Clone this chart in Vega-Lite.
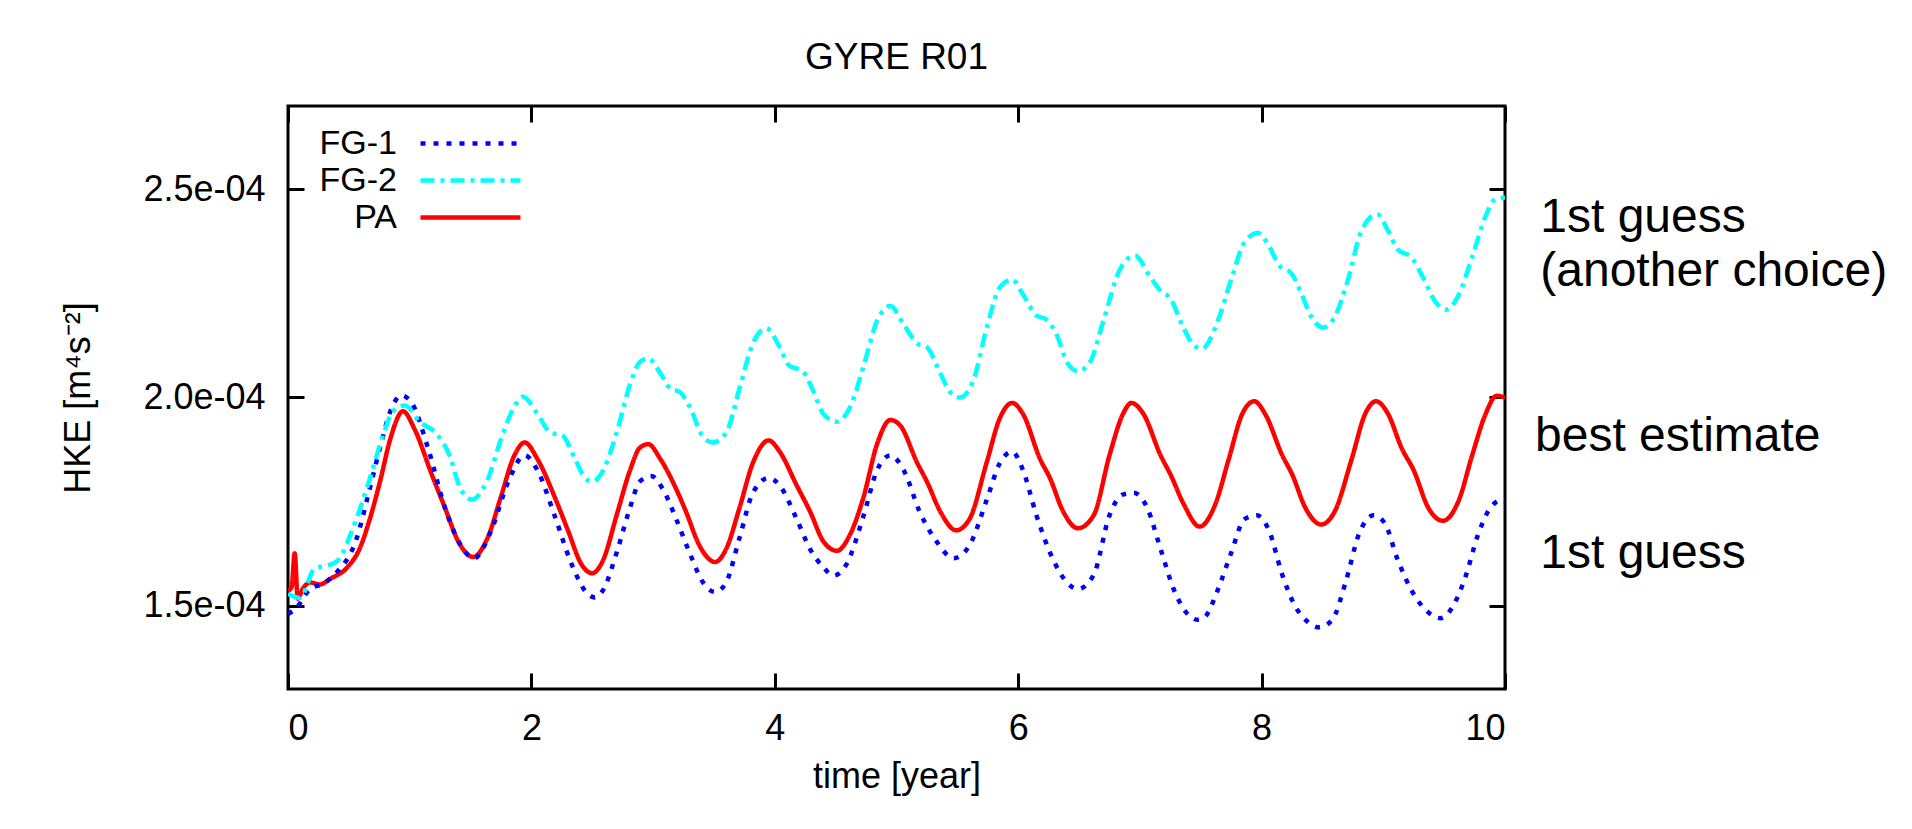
{
  "$schema": "https://vega.github.io/schema/vega-lite/v6.json",
  "autosize": {"type": "none"},
  "width": 1217,
  "height": 583,
  "padding": {"left": 288, "top": 106, "right": 407, "bottom": 140},
  "background": "white",
  "title": {"text": "GYRE R01", "font": "Liberation Sans", "fontSize": 37, "fontWeight": "normal", "color": "black", "anchor": "middle", "baseline": "alphabetic", "offset": -1},
  "config": {
    "view": {"stroke": "black", "strokeWidth": 3},
    "axis": {"grid": false, "domain": false, "tickColor": "black", "tickWidth": 3, "tickSize": -16, "labelColor": "black", "labelFont": "Liberation Sans", "labelFontSize": 36, "titleFont": "Liberation Sans", "titleFontSize": 36, "titleFontWeight": "normal", "titleColor": "black"},
    "legend": {"labelFont": "Liberation Sans", "labelFontSize": 34, "labelColor": "black", "labelLimit": 0}
  },
  "datasets": {
    "series": [
      {"s":"PA","t":0.00,"v":1.536e-4},{"s":"PA","t":0.03,"v":1.545e-4},{"s":"PA","t":0.055,"v":1.626e-4},{"s":"PA","t":0.08,"v":1.517e-4},{"s":"PA","t":0.12,"v":1.540e-4},{"s":"PA","t":0.18,"v":1.556e-4},{"s":"PA","t":0.26,"v":1.551e-4},{"s":"PA","t":0.35,"v":1.565e-4},{"s":"PA","t":0.48,"v":1.590e-4},{"s":"PA","t":0.59,"v":1.638e-4},{"s":"PA","t":0.67,"v":1.706e-4},{"s":"PA","t":0.76,"v":1.803e-4},{"s":"PA","t":0.84,"v":1.900e-4},{"s":"PA","t":0.945,"v":1.967e-4},{"s":"PA","t":1.04,"v":1.924e-4},{"s":"PA","t":1.18,"v":1.816e-4},{"s":"PA","t":1.29,"v":1.735e-4},{"s":"PA","t":1.40,"v":1.654e-4},{"s":"PA","t":1.52,"v":1.617e-4},{"s":"PA","t":1.64,"v":1.663e-4},{"s":"PA","t":1.75,"v":1.762e-4},{"s":"PA","t":1.86,"v":1.861e-4},{"s":"PA","t":1.945,"v":1.892e-4},{"s":"PA","t":2.05,"v":1.852e-4},{"s":"PA","t":2.19,"v":1.762e-4},{"s":"PA","t":2.30,"v":1.681e-4},{"s":"PA","t":2.41,"v":1.600e-4},{"s":"PA","t":2.50,"v":1.578e-4},{"s":"PA","t":2.59,"v":1.610e-4},{"s":"PA","t":2.70,"v":1.717e-4},{"s":"PA","t":2.81,"v":1.825e-4},{"s":"PA","t":2.89,"v":1.879e-4},{"s":"PA","t":2.96,"v":1.888e-4},{"s":"PA","t":3.06,"v":1.852e-4},{"s":"PA","t":3.19,"v":1.780e-4},{"s":"PA","t":3.27,"v":1.726e-4},{"s":"PA","t":3.38,"v":1.645e-4},{"s":"PA","t":3.51,"v":1.605e-4},{"s":"PA","t":3.60,"v":1.636e-4},{"s":"PA","t":3.71,"v":1.735e-4},{"s":"PA","t":3.82,"v":1.843e-4},{"s":"PA","t":3.95,"v":1.897e-4},{"s":"PA","t":4.04,"v":1.870e-4},{"s":"PA","t":4.18,"v":1.789e-4},{"s":"PA","t":4.29,"v":1.726e-4},{"s":"PA","t":4.40,"v":1.654e-4},{"s":"PA","t":4.51,"v":1.632e-4},{"s":"PA","t":4.62,"v":1.672e-4},{"s":"PA","t":4.73,"v":1.762e-4},{"s":"PA","t":4.84,"v":1.888e-4},{"s":"PA","t":4.95,"v":1.946e-4},{"s":"PA","t":5.03,"v":1.933e-4},{"s":"PA","t":5.17,"v":1.843e-4},{"s":"PA","t":5.25,"v":1.798e-4},{"s":"PA","t":5.36,"v":1.726e-4},{"s":"PA","t":5.49,"v":1.681e-4},{"s":"PA","t":5.60,"v":1.708e-4},{"s":"PA","t":5.74,"v":1.843e-4},{"s":"PA","t":5.85,"v":1.951e-4},{"s":"PA","t":5.95,"v":1.987e-4},{"s":"PA","t":6.04,"v":1.960e-4},{"s":"PA","t":6.18,"v":1.852e-4},{"s":"PA","t":6.26,"v":1.807e-4},{"s":"PA","t":6.37,"v":1.726e-4},{"s":"PA","t":6.49,"v":1.686e-4},{"s":"PA","t":6.62,"v":1.717e-4},{"s":"PA","t":6.75,"v":1.861e-4},{"s":"PA","t":6.86,"v":1.960e-4},{"s":"PA","t":6.93,"v":1.987e-4},{"s":"PA","t":7.03,"v":1.960e-4},{"s":"PA","t":7.17,"v":1.861e-4},{"s":"PA","t":7.25,"v":1.816e-4},{"s":"PA","t":7.36,"v":1.744e-4},{"s":"PA","t":7.49,"v":1.690e-4},{"s":"PA","t":7.62,"v":1.744e-4},{"s":"PA","t":7.73,"v":1.852e-4},{"s":"PA","t":7.84,"v":1.960e-4},{"s":"PA","t":7.94,"v":1.991e-4},{"s":"PA","t":8.03,"v":1.960e-4},{"s":"PA","t":8.17,"v":1.861e-4},{"s":"PA","t":8.25,"v":1.816e-4},{"s":"PA","t":8.36,"v":1.735e-4},{"s":"PA","t":8.49,"v":1.695e-4},{"s":"PA","t":8.60,"v":1.726e-4},{"s":"PA","t":8.74,"v":1.852e-4},{"s":"PA","t":8.85,"v":1.960e-4},{"s":"PA","t":8.94,"v":1.991e-4},{"s":"PA","t":9.04,"v":1.960e-4},{"s":"PA","t":9.15,"v":1.879e-4},{"s":"PA","t":9.25,"v":1.825e-4},{"s":"PA","t":9.37,"v":1.735e-4},{"s":"PA","t":9.49,"v":1.704e-4},{"s":"PA","t":9.62,"v":1.753e-4},{"s":"PA","t":9.73,"v":1.861e-4},{"s":"PA","t":9.84,"v":1.960e-4},{"s":"PA","t":9.93,"v":2.004e-4},{"s":"PA","t":10.0,"v":2.000e-4},
      {"s":"FG-1","t":0.00,"v":1.480e-4},{"s":"FG-1","t":0.07,"v":1.495e-4},{"s":"FG-1","t":0.18,"v":1.540e-4},{"s":"FG-1","t":0.29,"v":1.553e-4},{"s":"FG-1","t":0.40,"v":1.580e-4},{"s":"FG-1","t":0.56,"v":1.658e-4},{"s":"FG-1","t":0.67,"v":1.779e-4},{"s":"FG-1","t":0.76,"v":1.884e-4},{"s":"FG-1","t":0.84,"v":1.966e-4},{"s":"FG-1","t":0.93,"v":2.005e-4},{"s":"FG-1","t":1.01,"v":1.990e-4},{"s":"FG-1","t":1.15,"v":1.879e-4},{"s":"FG-1","t":1.29,"v":1.735e-4},{"s":"FG-1","t":1.42,"v":1.645e-4},{"s":"FG-1","t":1.53,"v":1.614e-4},{"s":"FG-1","t":1.67,"v":1.681e-4},{"s":"FG-1","t":1.81,"v":1.798e-4},{"s":"FG-1","t":1.945,"v":1.861e-4},{"s":"FG-1","t":2.05,"v":1.825e-4},{"s":"FG-1","t":2.19,"v":1.717e-4},{"s":"FG-1","t":2.33,"v":1.600e-4},{"s":"FG-1","t":2.46,"v":1.529e-4},{"s":"FG-1","t":2.52,"v":1.520e-4},{"s":"FG-1","t":2.59,"v":1.538e-4},{"s":"FG-1","t":2.70,"v":1.627e-4},{"s":"FG-1","t":2.81,"v":1.735e-4},{"s":"FG-1","t":2.89,"v":1.798e-4},{"s":"FG-1","t":2.99,"v":1.811e-4},{"s":"FG-1","t":3.08,"v":1.780e-4},{"s":"FG-1","t":3.19,"v":1.708e-4},{"s":"FG-1","t":3.30,"v":1.627e-4},{"s":"FG-1","t":3.41,"v":1.556e-4},{"s":"FG-1","t":3.51,"v":1.533e-4},{"s":"FG-1","t":3.60,"v":1.556e-4},{"s":"FG-1","t":3.71,"v":1.663e-4},{"s":"FG-1","t":3.82,"v":1.771e-4},{"s":"FG-1","t":3.95,"v":1.807e-4},{"s":"FG-1","t":4.04,"v":1.789e-4},{"s":"FG-1","t":4.18,"v":1.708e-4},{"s":"FG-1","t":4.29,"v":1.636e-4},{"s":"FG-1","t":4.40,"v":1.592e-4},{"s":"FG-1","t":4.48,"v":1.572e-4},{"s":"FG-1","t":4.59,"v":1.600e-4},{"s":"FG-1","t":4.73,"v":1.717e-4},{"s":"FG-1","t":4.84,"v":1.825e-4},{"s":"FG-1","t":4.95,"v":1.861e-4},{"s":"FG-1","t":5.06,"v":1.825e-4},{"s":"FG-1","t":5.19,"v":1.726e-4},{"s":"FG-1","t":5.33,"v":1.654e-4},{"s":"FG-1","t":5.47,"v":1.614e-4},{"s":"FG-1","t":5.60,"v":1.645e-4},{"s":"FG-1","t":5.74,"v":1.753e-4},{"s":"FG-1","t":5.85,"v":1.843e-4},{"s":"FG-1","t":5.95,"v":1.870e-4},{"s":"FG-1","t":6.04,"v":1.825e-4},{"s":"FG-1","t":6.15,"v":1.717e-4},{"s":"FG-1","t":6.29,"v":1.609e-4},{"s":"FG-1","t":6.40,"v":1.556e-4},{"s":"FG-1","t":6.49,"v":1.540e-4},{"s":"FG-1","t":6.62,"v":1.574e-4},{"s":"FG-1","t":6.75,"v":1.717e-4},{"s":"FG-1","t":6.86,"v":1.767e-4},{"s":"FG-1","t":6.95,"v":1.771e-4},{"s":"FG-1","t":7.06,"v":1.735e-4},{"s":"FG-1","t":7.17,"v":1.636e-4},{"s":"FG-1","t":7.28,"v":1.538e-4},{"s":"FG-1","t":7.38,"v":1.484e-4},{"s":"FG-1","t":7.48,"v":1.466e-4},{"s":"FG-1","t":7.54,"v":1.475e-4},{"s":"FG-1","t":7.64,"v":1.538e-4},{"s":"FG-1","t":7.75,"v":1.627e-4},{"s":"FG-1","t":7.86,"v":1.708e-4},{"s":"FG-1","t":7.96,"v":1.717e-4},{"s":"FG-1","t":8.06,"v":1.681e-4},{"s":"FG-1","t":8.17,"v":1.574e-4},{"s":"FG-1","t":8.27,"v":1.502e-4},{"s":"FG-1","t":8.38,"v":1.461e-4},{"s":"FG-1","t":8.47,"v":1.448e-4},{"s":"FG-1","t":8.58,"v":1.466e-4},{"s":"FG-1","t":8.69,"v":1.556e-4},{"s":"FG-1","t":8.80,"v":1.672e-4},{"s":"FG-1","t":8.92,"v":1.717e-4},{"s":"FG-1","t":9.01,"v":1.699e-4},{"s":"FG-1","t":9.12,"v":1.609e-4},{"s":"FG-1","t":9.23,"v":1.538e-4},{"s":"FG-1","t":9.37,"v":1.484e-4},{"s":"FG-1","t":9.47,"v":1.470e-4},{"s":"FG-1","t":9.56,"v":1.493e-4},{"s":"FG-1","t":9.67,"v":1.565e-4},{"s":"FG-1","t":9.78,"v":1.672e-4},{"s":"FG-1","t":9.86,"v":1.726e-4},{"s":"FG-1","t":9.97,"v":1.753e-4},{"s":"FG-1","t":10.0,"v":1.750e-4},
      {"s":"FG-2","t":0.00,"v":1.529e-4},{"s":"FG-2","t":0.10,"v":1.519e-4},{"s":"FG-2","t":0.22,"v":1.590e-4},{"s":"FG-2","t":0.33,"v":1.597e-4},{"s":"FG-2","t":0.41,"v":1.609e-4},{"s":"FG-2","t":0.55,"v":1.699e-4},{"s":"FG-2","t":0.67,"v":1.803e-4},{"s":"FG-2","t":0.78,"v":1.908e-4},{"s":"FG-2","t":0.86,"v":1.966e-4},{"s":"FG-2","t":0.96,"v":1.981e-4},{"s":"FG-2","t":1.08,"v":1.942e-4},{"s":"FG-2","t":1.22,"v":1.913e-4},{"s":"FG-2","t":1.33,"v":1.859e-4},{"s":"FG-2","t":1.41,"v":1.786e-4},{"s":"FG-2","t":1.51,"v":1.755e-4},{"s":"FG-2","t":1.63,"v":1.796e-4},{"s":"FG-2","t":1.76,"v":1.908e-4},{"s":"FG-2","t":1.86,"v":1.978e-4},{"s":"FG-2","t":1.93,"v":2.002e-4},{"s":"FG-2","t":2.05,"v":1.960e-4},{"s":"FG-2","t":2.16,"v":1.915e-4},{"s":"FG-2","t":2.25,"v":1.910e-4},{"s":"FG-2","t":2.36,"v":1.852e-4},{"s":"FG-2","t":2.44,"v":1.807e-4},{"s":"FG-2","t":2.50,"v":1.798e-4},{"s":"FG-2","t":2.59,"v":1.825e-4},{"s":"FG-2","t":2.70,"v":1.915e-4},{"s":"FG-2","t":2.81,"v":2.031e-4},{"s":"FG-2","t":2.89,"v":2.085e-4},{"s":"FG-2","t":2.96,"v":2.094e-4},{"s":"FG-2","t":3.06,"v":2.058e-4},{"s":"FG-2","t":3.14,"v":2.022e-4},{"s":"FG-2","t":3.22,"v":2.013e-4},{"s":"FG-2","t":3.30,"v":1.978e-4},{"s":"FG-2","t":3.41,"v":1.906e-4},{"s":"FG-2","t":3.49,"v":1.892e-4},{"s":"FG-2","t":3.60,"v":1.915e-4},{"s":"FG-2","t":3.71,"v":2.022e-4},{"s":"FG-2","t":3.82,"v":2.130e-4},{"s":"FG-2","t":3.93,"v":2.166e-4},{"s":"FG-2","t":4.04,"v":2.121e-4},{"s":"FG-2","t":4.12,"v":2.076e-4},{"s":"FG-2","t":4.23,"v":2.063e-4},{"s":"FG-2","t":4.32,"v":2.013e-4},{"s":"FG-2","t":4.40,"v":1.960e-4},{"s":"FG-2","t":4.51,"v":1.942e-4},{"s":"FG-2","t":4.62,"v":1.978e-4},{"s":"FG-2","t":4.73,"v":2.076e-4},{"s":"FG-2","t":4.84,"v":2.184e-4},{"s":"FG-2","t":4.95,"v":2.220e-4},{"s":"FG-2","t":5.06,"v":2.175e-4},{"s":"FG-2","t":5.17,"v":2.130e-4},{"s":"FG-2","t":5.25,"v":2.121e-4},{"s":"FG-2","t":5.36,"v":2.058e-4},{"s":"FG-2","t":5.44,"v":2.013e-4},{"s":"FG-2","t":5.52,"v":2.000e-4},{"s":"FG-2","t":5.63,"v":2.040e-4},{"s":"FG-2","t":5.74,"v":2.166e-4},{"s":"FG-2","t":5.85,"v":2.265e-4},{"s":"FG-2","t":5.95,"v":2.283e-4},{"s":"FG-2","t":6.04,"v":2.247e-4},{"s":"FG-2","t":6.15,"v":2.197e-4},{"s":"FG-2","t":6.23,"v":2.188e-4},{"s":"FG-2","t":6.32,"v":2.148e-4},{"s":"FG-2","t":6.40,"v":2.085e-4},{"s":"FG-2","t":6.49,"v":2.063e-4},{"s":"FG-2","t":6.59,"v":2.085e-4},{"s":"FG-2","t":6.70,"v":2.184e-4},{"s":"FG-2","t":6.84,"v":2.310e-4},{"s":"FG-2","t":6.96,"v":2.341e-4},{"s":"FG-2","t":7.08,"v":2.292e-4},{"s":"FG-2","t":7.17,"v":2.256e-4},{"s":"FG-2","t":7.25,"v":2.238e-4},{"s":"FG-2","t":7.36,"v":2.166e-4},{"s":"FG-2","t":7.44,"v":2.126e-4},{"s":"FG-2","t":7.51,"v":2.117e-4},{"s":"FG-2","t":7.64,"v":2.184e-4},{"s":"FG-2","t":7.75,"v":2.283e-4},{"s":"FG-2","t":7.86,"v":2.373e-4},{"s":"FG-2","t":7.97,"v":2.395e-4},{"s":"FG-2","t":8.06,"v":2.364e-4},{"s":"FG-2","t":8.14,"v":2.319e-4},{"s":"FG-2","t":8.25,"v":2.296e-4},{"s":"FG-2","t":8.33,"v":2.247e-4},{"s":"FG-2","t":8.41,"v":2.193e-4},{"s":"FG-2","t":8.51,"v":2.168e-4},{"s":"FG-2","t":8.60,"v":2.193e-4},{"s":"FG-2","t":8.71,"v":2.283e-4},{"s":"FG-2","t":8.82,"v":2.400e-4},{"s":"FG-2","t":8.95,"v":2.440e-4},{"s":"FG-2","t":9.04,"v":2.400e-4},{"s":"FG-2","t":9.12,"v":2.355e-4},{"s":"FG-2","t":9.23,"v":2.337e-4},{"s":"FG-2","t":9.32,"v":2.292e-4},{"s":"FG-2","t":9.43,"v":2.229e-4},{"s":"FG-2","t":9.52,"v":2.211e-4},{"s":"FG-2","t":9.62,"v":2.247e-4},{"s":"FG-2","t":9.73,"v":2.337e-4},{"s":"FG-2","t":9.84,"v":2.435e-4},{"s":"FG-2","t":9.92,"v":2.476e-4},{"s":"FG-2","t":10.0,"v":2.480e-4}
    ],
    "notes": [
      {"label": "1st guess", "t": 10.29, "v": 2.398e-4},
      {"label": "(another choice)", "t": 10.29, "v": 2.267e-4},
      {"label": "best estimate", "t": 10.247, "v": 1.871e-4},
      {"label": "1st guess", "t": 10.29, "v": 1.590e-4}
    ]
  },
  "layer": [
    {
      "data": {"name": "series"},
      "mark": {"type": "line", "interpolate": "monotone", "strokeWidth": 4.5, "clip": true},
      "encoding": {
        "x": {"field": "t", "type": "quantitative", "scale": {"domain": [0, 10], "nice": false, "zero": false},
              "axis": {"orient": "bottom", "values": [0, 2, 4, 6, 8, 10], "format": "d", "labelPadding": 38, "labelDx": 4, "title": "time [year]", "titlePadding": 13}},
        "y": {"field": "v", "type": "quantitative", "scale": {"domain": [1.3e-4, 2.7e-4], "nice": false, "zero": false},
              "axis": {"orient": "left", "values": [1.5e-4, 2.0e-4, 2.5e-4], "labelExpr": "replace(format(datum.value, '.1e'), 'e-', 'e-0')", "labelPadding": 39, "title": "HKE [m⁴s⁻²]", "titlePadding": 45}},
        "color": {"field": "s", "type": "nominal", "scale": {"domain": ["FG-1", "FG-2", "PA"], "range": ["#0000ff", "#00ffff", "#ff0000"]},
                  "legend": {"orient": "none", "legendX": 165, "legendY": 20, "title": null, "symbolType": "M-3.333,0H3.333", "symbolSize": 900, "symbolStrokeWidth": 4.5, "symbolOffset": 0, "labelFont": "Liberation Sans", "labelFontSize": 34, "labelColor": "black", "labelAlign": "right", "labelOffset": -91, "rowPadding": 2, "padding": 0, "labelLimit": 0}},
        "strokeDash": {"field": "s", "type": "nominal", "scale": {"domain": ["FG-1", "FG-2", "PA"], "range": [[5, 8], [14, 6, 4, 6], [1, 0]]},
                  "legend": {"orient": "none", "legendX": 165, "legendY": 20, "title": null, "symbolType": "M-3.333,0H3.333", "symbolSize": 900, "symbolStrokeWidth": 4.5, "symbolOffset": 0, "labelFont": "Liberation Sans", "labelFontSize": 34, "labelColor": "black", "labelAlign": "right", "labelOffset": -91, "rowPadding": 2, "padding": 0, "labelLimit": 0}}
      }
    },
    {
      "data": {"name": "notes"},
      "mark": {"type": "text", "align": "left", "baseline": "alphabetic", "font": "Liberation Sans", "fontSize": 48, "color": "black"},
      "encoding": {
        "x": {"field": "t", "type": "quantitative", "scale": {"domain": [0, 10], "nice": false, "zero": false},
              "axis": {"orient": "top", "values": [0, 2, 4, 6, 8, 10], "labels": false, "title": null}},
        "y": {"field": "v", "type": "quantitative", "scale": {"domain": [1.3e-4, 2.7e-4], "nice": false, "zero": false},
              "axis": {"orient": "right", "values": [1.5e-4, 2.0e-4, 2.5e-4], "labels": false, "title": null}},
        "text": {"field": "label", "type": "nominal"}
      }
    }
  ],
  "resolve": {"axis": {"x": "independent", "y": "independent"}}
}
